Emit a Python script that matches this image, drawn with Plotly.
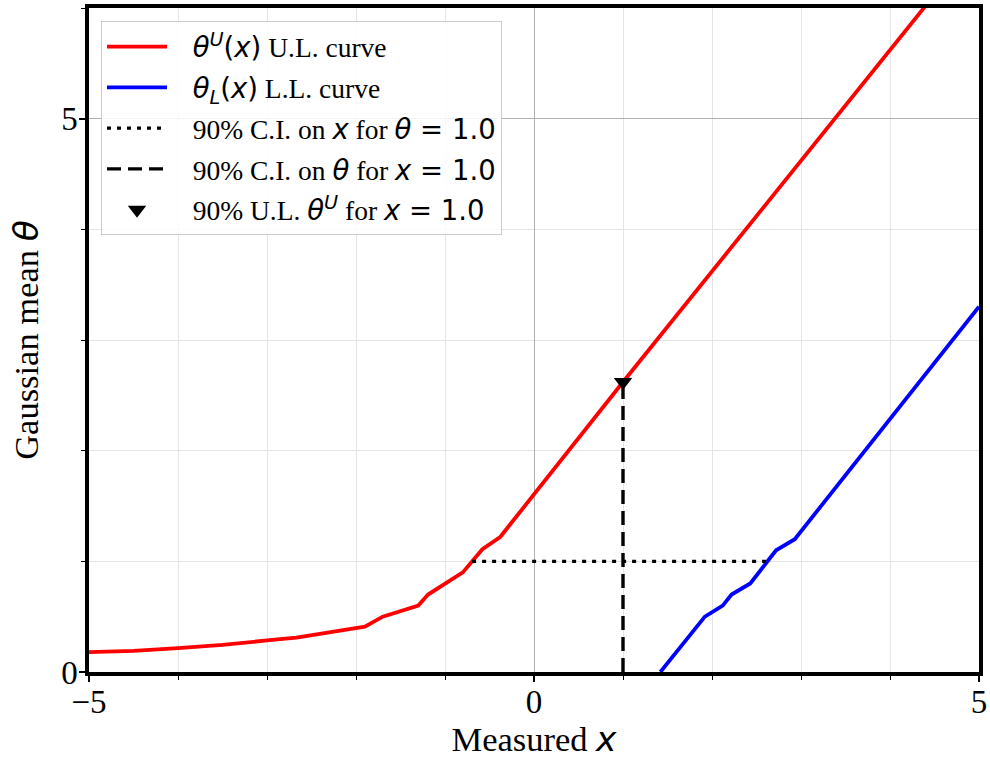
import numpy as np
import plotly.graph_objects as go

# Upper-limit curve theta^U(x) of the 90% confidence belt
ul_x = [-5.0, -4.5, -4.0, -3.5, -3.0, -2.67, -1.90, -1.70, -1.30, -1.19, -0.80, -0.58, -0.38, 1.0, 5.0]
ul_theta = [0.18, 0.19, 0.215, 0.245, 0.285, 0.31, 0.41, 0.50, 0.60, 0.70, 0.90, 1.11, 1.22, 2.62, 6.62]

# Lower-limit curve theta_L(x)
ll_x = [1.42, 1.92, 2.12, 2.22, 2.43, 2.72, 2.93, 5.0]
ll_theta = [0.0, 0.50, 0.60, 0.70, 0.80, 1.10, 1.20, 3.30]

# Reference values
theta0 = 1.0   # horizontal cut: interval on x for this theta
x0 = 1.0       # vertical cut: interval on theta for this x

# Interval on x at theta0: where the belt edges cross theta0
ci_x_low = float(np.interp(theta0, ul_theta, ul_x))
ci_x_high = float(np.interp(theta0, ll_theta, ll_x))
# Upper limit at x0
ul_at_x0 = float(np.interp(x0, ul_x, ul_theta))

SERIF = "Liberation Serif, Times New Roman, serif"
MATH = "DejaVu Sans"
GAP = "\u00a0" * 3  # space between legend symbol and its text


def m(s):
    return f'<span style="font-family:{MATH}">{s}</span>'


labels = [
    GAP + m("<i>θ</i><sup><i>U</i></sup>(<i>x</i>)") + " U.L. curve",
    GAP + m("<i>θ</i><sub><i>L</i></sub>(<i>x</i>)") + " L.L. curve",
    GAP + "90% C.I. on " + m("<i>x</i>") + " for " + m("<i>θ</i> = 1.0"),
    GAP + "90% C.I. on " + m("<i>θ</i>") + " for " + m("<i>x</i> = 1.0"),
    GAP + "90% U.L. " + m("<i>θ</i><sup><i>U</i></sup>") + " for " + m("<i>x</i> = 1.0"),
]

fig = go.Figure()
fig.add_trace(go.Scatter(x=ul_x, y=ul_theta, mode="lines", name=labels[0],
                         line=dict(color="#ff0000", width=3.8), legendgroup="a"))
fig.add_trace(go.Scatter(x=ll_x, y=ll_theta, mode="lines", name=labels[1],
                         line=dict(color="#0000ff", width=3.8), legendgroup="b"))
fig.add_trace(go.Scatter(x=[ci_x_low, ci_x_high], y=[theta0, theta0], mode="lines",
                         name=labels[2], legendgroup="c",
                         line=dict(color="black", width=3.4, dash="4px,6px")))
fig.add_trace(go.Scatter(x=[x0, x0], y=[0, ul_at_x0], mode="lines",
                         name=labels[3], legendgroup="d",
                         line=dict(color="black", width=3.4, dash="14px,7px")))
fig.add_trace(go.Scatter(x=[x0], y=[ul_at_x0], mode="markers", name=labels[4],
                         legendgroup="e",
                         marker=dict(symbol="triangle-down", size=16, color="black")))

axis_common = dict(
    showline=True, linewidth=3.5, linecolor="black", mirror=True,
    ticks="outside", ticklen=6, tickwidth=1.5, tickcolor="black",
    showgrid=True, gridcolor="#b0b0b0", gridwidth=1,
    zeroline=False, automargin=False,
    tickfont=dict(family=SERIF, size=33, color="black"),
    minor=dict(dtick=1, ticks="outside", ticklen=4, tickwidth=1.2, tickcolor="black",
               showgrid=True, gridcolor="#e4e4e4", gridwidth=1),
)

fig.update_xaxes(range=[-5, 5], tick0=0, dtick=5, ticklabelstandoff=-8, **axis_common,
                 title=dict(text="Measured " + m("<i>x</i>"), standoff=9,
                            font=dict(family=SERIF, size=34.5, color="black")))
fig.update_yaxes(range=[0, 6], tick0=0, dtick=5, ticklabelstandoff=-5, **axis_common)

# Vertical axis title, placed left of the tick labels
fig.add_annotation(text="Gaussian mean " + m("<i>θ</i>"), textangle=-90,
                   xref="paper", yref="paper", x=-0.071, y=0.5,
                   xanchor="center", yanchor="middle", showarrow=False,
                   font=dict(family=SERIF, size=34.5, color="black"))

fig.update_layout(
    width=990, height=759,
    margin=dict(l=89, r=11, t=8, b=87),
    paper_bgcolor="white", plot_bgcolor="white",
    font=dict(family=SERIF, color="black"),
    legend=dict(x=0.0135, y=0.98, xanchor="left", yanchor="top",
                bgcolor="rgba(255,255,255,0.85)", bordercolor="#cccccc", borderwidth=1,
                font=dict(family=SERIF, size=27.5, color="black"),
                itemwidth=60, tracegroupgap=2, traceorder="grouped"),
    showlegend=True,
)

fig.write_html("out.html")
